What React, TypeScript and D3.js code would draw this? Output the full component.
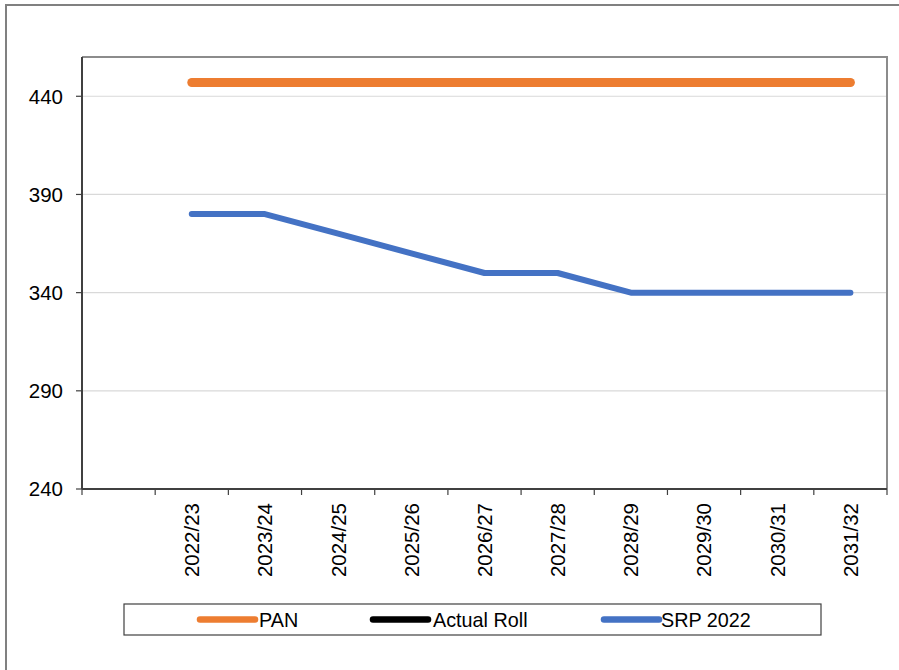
import React from "react";
import * as d3 from "d3";

// categories (first slot is an empty category, as in the source sheet)
const categories = ["", "2022/23", "2023/24", "2024/25", "2025/26", "2026/27", "2027/28", "2028/29", "2029/30", "2030/31", "2031/32"];
const panValues: (number | null)[] = [null, 447, 447, 447, 447, 447, 447, 447, 447, 447, 447];
const actualRollValues: (number | null)[] = [null, null, null, null, null, null, null, null, null, null, null];
const srpValues: (number | null)[] = [null, 380, 380, 370, 360, 350, 350, 340, 340, 340, 340];
const yTicks = [240, 290, 340, 390, 440];

const series = [
  { name: "PAN", values: panValues, color: "#ED7D31", width: 9 },
  { name: "Actual Roll", values: actualRollValues, color: "#000000", width: 6 },
  { name: "SRP 2022", values: srpValues, color: "#4472C4", width: 6 },
];

const W = 899;
const H = 670;
const plot = { left: 82, top: 57, right: 887, bottom: 489 };
const font = "'Liberation Sans', Arial, sans-serif";

const App = () => {
  const x = d3.scaleBand<string>().domain(categories).range([plot.left, plot.right]).padding(0);
  const y = d3.scaleLinear().domain([240, 460]).range([plot.bottom, plot.top]);

  const line = d3
    .line<number | null>()
    .defined((d) => d != null)
    .x((_, i) => (x(categories[i]) as number) + x.bandwidth() / 2)
    .y((d) => y(d as number));

  // tick positions at band edges
  const xEdges = categories.map((c) => x(c) as number).concat([plot.right]);

  // legend layout
  const legendItems = [
    { lx: 200, tx: 259 },
    { lx: 373, tx: 433 },
    { lx: 604, tx: 661 },
  ];

  return (
    <svg
      width={W}
      height={H}
      style={{ position: "absolute", left: 0, top: 0, background: "#fff" }}
      fontFamily={font}
    >
      {/* outer chart border */}
      <rect x={6} y={5} width={W + 20} height={H + 20} fill="#fff" stroke="#808080" strokeWidth={2} />

      {/* gridlines */}
      {yTicks.slice(1).map((t) => (
        <line key={t} x1={plot.left} x2={plot.right} y1={y(t)} y2={y(t)} stroke="#D9D9D9" strokeWidth={1.2} />
      ))}

      {/* plot area top/right border */}
      <polyline
        points={`${plot.left},${plot.top} ${plot.right},${plot.top} ${plot.right},${plot.bottom}`}
        fill="none"
        stroke="#8C8C8C"
        strokeWidth={2}
      />

      {/* y axis */}
      <line x1={plot.left} x2={plot.left} y1={plot.top} y2={plot.bottom} stroke="#404040" strokeWidth={2} />
      {yTicks.map((t) => (
        <g key={t}>
          <line x1={plot.left - 6} x2={plot.left} y1={y(t)} y2={y(t)} stroke="#404040" strokeWidth={1.2} />
          <text x={63} y={y(t)} dy="0.36em" textAnchor="end" fontSize={20.5} fill="#000">
            {t}
          </text>
        </g>
      ))}

      {/* x axis */}
      <line x1={plot.left} x2={plot.right} y1={plot.bottom} y2={plot.bottom} stroke="#404040" strokeWidth={2} />
      {xEdges.map((e, i) => (
        <line key={i} x1={e} x2={e} y1={plot.bottom} y2={plot.bottom + 6} stroke="#404040" strokeWidth={1.2} />
      ))}
      {categories.map((c) =>
        c ? (
          <text
            key={c}
            transform={`translate(${(x(c) as number) + x.bandwidth() / 2},${plot.bottom + 14}) rotate(-90)`}
            dy="0.36em"
            textAnchor="end"
            fontSize={20.5}
            fill="#000"
          >
            {c}
          </text>
        ) : null
      )}

      {/* series */}
      {series.map((s) => (
        <path
          key={s.name}
          d={line(s.values) || ""}
          fill="none"
          stroke={s.color}
          strokeWidth={s.width}
          strokeLinecap="round"
          strokeLinejoin="round"
        />
      ))}

      {/* legend */}
      <rect x={124} y={604} width={697} height={31} fill="#fff" stroke="#404040" strokeWidth={1.2} />
      {series.map((s, i) => (
        <g key={s.name}>
          <line
            x1={legendItems[i].lx}
            x2={legendItems[i].lx + 55}
            y1={619.5}
            y2={619.5}
            stroke={s.color}
            strokeWidth={6.5}
            strokeLinecap="round"
          />
          <text x={legendItems[i].tx} y={619.5} dy="0.36em" fontSize={19.8} fill="#000">
            {s.name}
          </text>
        </g>
      ))}
    </svg>
  );
};

export default App;
